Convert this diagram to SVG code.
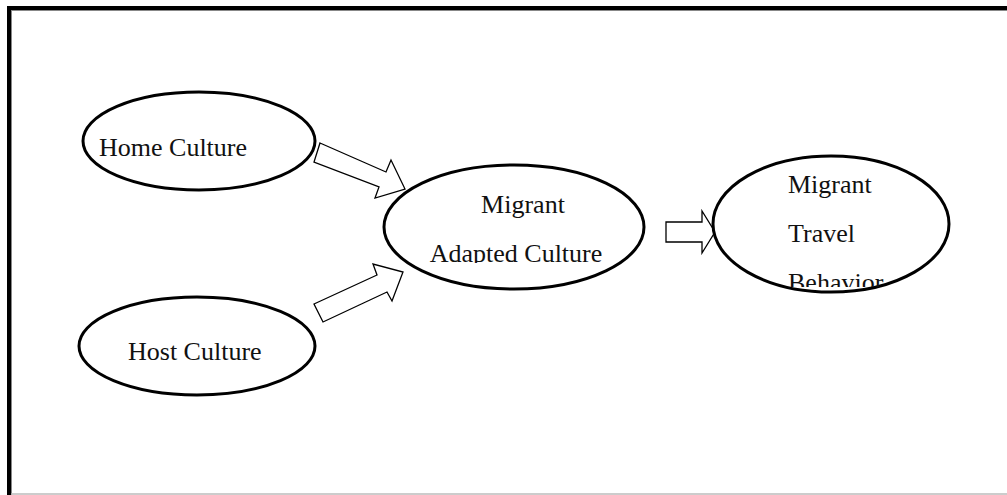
<svg xmlns="http://www.w3.org/2000/svg" width="1007" height="495" viewBox="0 0 1007 495">
<style>
.node{fill:#fff;stroke:#000;stroke-width:3}
.arr{fill:#fff;stroke:#000;stroke-width:1.3;stroke-linejoin:miter}
.t{font-family:"Liberation Serif","Times New Roman",serif;font-size:26px;fill:#111}
</style>
<defs>
<clipPath id="clipA"><rect x="380" y="160" width="270" height="103"/></clipPath>
<clipPath id="clipB"><rect x="700" y="140" width="260" height="147"/></clipPath>
</defs>
<rect x="0" y="0" width="1007" height="495" fill="#fff"/>
<g id="frame">
<rect x="7" y="6" width="1000" height="4" fill="#000"/>
<rect x="7" y="6" width="4" height="489" fill="#000"/>
<line x1="11" y1="10.5" x2="1007" y2="10.5" stroke="#888" stroke-width="1"/>
<line x1="11.5" y1="10" x2="11.5" y2="495" stroke="#888" stroke-width="1"/>
<line x1="11" y1="494" x2="1007" y2="494" stroke="#bbb" stroke-width="1.5"/>
</g>
<g id="connectors">
<polygon class="arr" points="320,143 386,172 391,160 405,189 375,198 379,187 314,162"/>
<polygon class="arr" points="314,304 377,275 373,264 403,272 392,301 387,292 323,322"/>
<polygon class="arr" points="666,222 702,222 702,211 715,232 702,253 702,242 666,242"/>
</g>
<g id="home">
<ellipse class="node" cx="199" cy="141" rx="116" ry="49"/>
<text class="t" x="99" y="156">Home Culture</text>
</g>
<g id="host">
<ellipse class="node" cx="197" cy="346" rx="118" ry="49"/>
<text class="t" x="128" y="360">Host Culture</text>
</g>
<g id="adapted">
<ellipse class="node" cx="514" cy="227" rx="130" ry="62"/>
<g clip-path="url(#clipA)">
<text class="t" x="523" y="213" text-anchor="middle">Migrant</text>
<text class="t" x="516" y="262" text-anchor="middle">Adapted Culture</text>
</g>
</g>
<g id="travel">
<ellipse class="node" cx="831" cy="224" rx="118" ry="68"/>
<g clip-path="url(#clipB)">
<text class="t" x="788" y="193">Migrant</text>
<text class="t" x="788" y="242">Travel</text>
<text class="t" x="788" y="291">Behavior</text>
</g>
</g>
</svg>
